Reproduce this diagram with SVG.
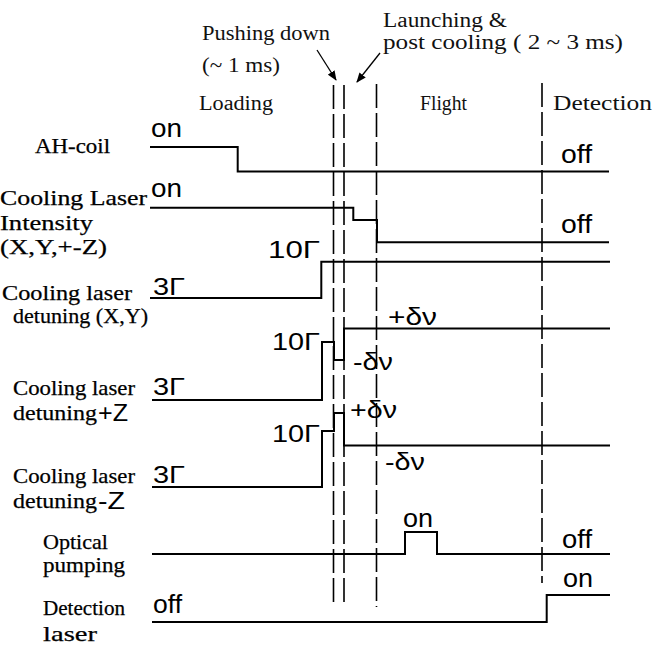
<svg xmlns="http://www.w3.org/2000/svg" width="664" height="651" viewBox="0 0 664 651">
<style>
  .bg{fill:#fff}
  .tr{fill:none;stroke:#000;stroke-width:2;stroke-linejoin:miter}
  .dash{fill:none;stroke:#000;stroke-width:1.6;stroke-dasharray:24 5}
  .arr{fill:none;stroke:#000;stroke-width:1.3}
  .lab{font-family:"Liberation Serif","Times New Roman",serif;font-size:21px;fill:#000;stroke:#000;stroke-width:0.25}
  .top{font-family:"Liberation Serif","Times New Roman",serif;font-size:20px;fill:#111}
  .ss{font-family:"Liberation Sans",Arial,sans-serif;font-size:25px;fill:#000}
  .g{font-family:"Liberation Sans",Arial,sans-serif;font-size:23px;fill:#000}
  .dv{font-family:"Liberation Sans",Arial,sans-serif;font-size:24px;fill:#000}
</style>
<defs>
  <marker id="ah" markerUnits="userSpaceOnUse" markerWidth="10" markerHeight="8" refX="9" refY="4" orient="auto">
    <path d="M0,0 L10,4 L0,8 z" fill="#000"/>
  </marker>
</defs>
<rect class="bg" x="0" y="0" width="664" height="651"/>

<g id="phase-labels">
  <text class="top" x="202" y="40" textLength="128" lengthAdjust="spacingAndGlyphs">Pushing down</text>
  <text class="top" x="202" y="72" textLength="78" lengthAdjust="spacingAndGlyphs">(~ 1 ms)</text>
  <text class="top" x="383" y="27" textLength="124" lengthAdjust="spacingAndGlyphs">Launching &amp;</text>
  <text class="top" x="383" y="49" textLength="240" lengthAdjust="spacingAndGlyphs">post cooling ( 2 ~ 3 ms)</text>
  <text class="top" x="199" y="110" textLength="74" lengthAdjust="spacingAndGlyphs">Loading</text>
  <text class="top" x="420" y="110" textLength="47" lengthAdjust="spacingAndGlyphs">Flight</text>
  <text class="top" x="553" y="110" textLength="99" lengthAdjust="spacingAndGlyphs">Detection</text>
</g>

<g id="connectors">
  <line class="dash" x1="333.5" y1="85" x2="333.5" y2="607"/>
  <line class="dash" x1="344" y1="85" x2="344" y2="607"/>
  <line class="dash" x1="376.5" y1="84" x2="376.5" y2="607"/>
  <line class="dash" x1="542" y1="83" x2="542" y2="583"/>
  <line class="arr" x1="317" y1="50" x2="336" y2="80" marker-end="url(#ah)"/>
  <line class="arr" x1="380" y1="53" x2="357" y2="82" marker-end="url(#ah)"/>
</g>

<g id="ah-coil">
  <text class="lab" x="35" y="153" textLength="75" lengthAdjust="spacingAndGlyphs">AH-coil</text>
  <text class="ss" x="151" y="137" textLength="31" lengthAdjust="spacingAndGlyphs">on</text>
  <text class="ss" x="561" y="163" textLength="31" lengthAdjust="spacingAndGlyphs">off</text>
  <path class="tr" d="M150,147 H237.7 V171.5 H609"/>
</g>

<g id="cooling-intensity">
  <text class="lab" x="0" y="205" textLength="147" lengthAdjust="spacingAndGlyphs">Cooling Laser</text>
  <text class="lab" x="0" y="230" textLength="93" lengthAdjust="spacingAndGlyphs">Intensity</text>
  <text class="lab" x="0" y="254" textLength="107" lengthAdjust="spacingAndGlyphs">(X,Y,+-Z)</text>
  <text class="ss" x="151" y="197" textLength="31" lengthAdjust="spacingAndGlyphs">on</text>
  <text class="ss" x="561" y="233" textLength="31" lengthAdjust="spacingAndGlyphs">off</text>
  <path class="tr" d="M150,207.7 H353.3 V220 H377 V242.3 H609"/>
</g>

<g id="detuning-xy">
  <text class="lab" x="2" y="300" textLength="130" lengthAdjust="spacingAndGlyphs">Cooling laser</text>
  <text class="lab" x="13" y="323" textLength="135" lengthAdjust="spacingAndGlyphs">detuning (X,Y)</text>
  <text class="g" x="153" y="295" textLength="32" lengthAdjust="spacingAndGlyphs">3Γ</text>
  <text class="g" x="268" y="258" textLength="52" lengthAdjust="spacingAndGlyphs">10Γ</text>
  <path class="tr" d="M150,298 H321.3 V261.7 H610"/>
</g>

<g id="detuning-plus-z">
  <text class="lab" x="13" y="395" textLength="122" lengthAdjust="spacingAndGlyphs">Cooling laser</text>
  <text class="lab" x="13" y="420" textLength="84" lengthAdjust="spacingAndGlyphs">detuning</text>
  <text class="g" x="98" y="421" textLength="30" lengthAdjust="spacingAndGlyphs">+Z</text>
  <text class="g" x="153" y="395" textLength="32" lengthAdjust="spacingAndGlyphs">3Γ</text>
  <text class="g" x="272" y="350" textLength="48" lengthAdjust="spacingAndGlyphs">10Γ</text>
  <text class="dv" x="388" y="325" textLength="49" lengthAdjust="spacingAndGlyphs">+δν</text>
  <text class="dv" x="353" y="370" textLength="40" lengthAdjust="spacingAndGlyphs">-δν</text>
  <path class="tr" d="M152,400 H322 V342 H334 V360 H344 V328.5 H610"/>
</g>

<g id="detuning-minus-z">
  <text class="lab" x="13" y="483" textLength="122" lengthAdjust="spacingAndGlyphs">Cooling laser</text>
  <text class="lab" x="13" y="508" textLength="84" lengthAdjust="spacingAndGlyphs">detuning</text>
  <text class="g" x="98" y="509" textLength="27" lengthAdjust="spacingAndGlyphs">-Z</text>
  <text class="g" x="153" y="483" textLength="32" lengthAdjust="spacingAndGlyphs">3Γ</text>
  <text class="g" x="272" y="442" textLength="48" lengthAdjust="spacingAndGlyphs">10Γ</text>
  <text class="dv" x="350" y="418" textLength="47" lengthAdjust="spacingAndGlyphs">+δν</text>
  <text class="dv" x="385" y="470" textLength="40" lengthAdjust="spacingAndGlyphs">-δν</text>
  <path class="tr" d="M152,487 H322 V431 H334 V413 H344 V445.5 H610"/>
</g>

<g id="optical-pumping">
  <text class="lab" x="43" y="549" textLength="65" lengthAdjust="spacingAndGlyphs">Optical</text>
  <text class="lab" x="43" y="572" textLength="82" lengthAdjust="spacingAndGlyphs">pumping</text>
  <text class="ss" x="403" y="527" textLength="30" lengthAdjust="spacingAndGlyphs">on</text>
  <text class="ss" x="562" y="548" textLength="30" lengthAdjust="spacingAndGlyphs">off</text>
  <path class="tr" d="M152,554 H405 V532 H437 V554 H610"/>
</g>

<g id="detection-laser">
  <text class="lab" x="43" y="615" textLength="82" lengthAdjust="spacingAndGlyphs">Detection</text>
  <text class="lab" x="43" y="641" textLength="54" lengthAdjust="spacingAndGlyphs">laser</text>
  <text class="ss" x="153" y="613" textLength="29" lengthAdjust="spacingAndGlyphs">off</text>
  <text class="ss" x="563" y="587" textLength="30" lengthAdjust="spacingAndGlyphs">on</text>
  <path class="tr" d="M152,622 H546.7 V595 H610"/>
</g>
</svg>
